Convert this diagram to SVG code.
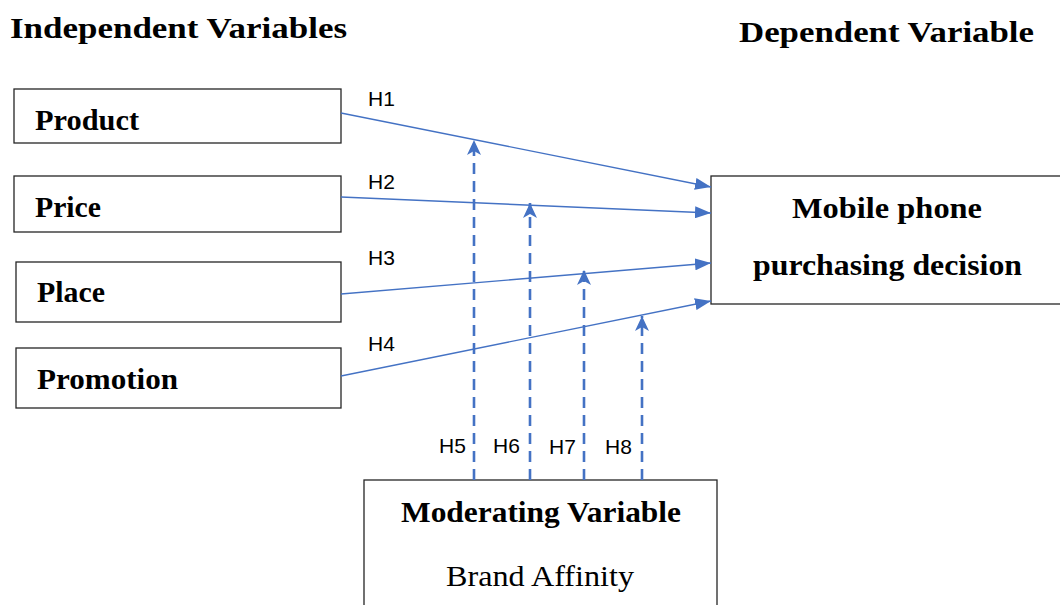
<svg xmlns="http://www.w3.org/2000/svg" width="1060" height="605" viewBox="0 0 1060 605">
<style>
.box{fill:#fff;stroke:#262626;stroke-width:1.3}
.title{font-family:"Liberation Serif",serif;font-weight:bold;font-size:30px;fill:#000}
.node{font-family:"Liberation Serif",serif;font-weight:bold;font-size:30px;fill:#000}
.reg{font-family:"Liberation Serif",serif;font-size:29px;fill:#000}
.h{font-family:"Liberation Sans",Arial,sans-serif;font-size:21px;fill:#000}
.solid{stroke:#4472C4;stroke-width:1.4;fill:none}
.dash{stroke:#4472C4;stroke-width:2.6;fill:none;stroke-dasharray:11 7}
</style>
<defs>
<marker id="tri" viewBox="0 0 16 12" refX="16" refY="6" markerWidth="16" markerHeight="12" markerUnits="userSpaceOnUse" orient="auto">
<path d="M0,0 L16,6 L0,12 z" fill="#4472C4"/>
</marker>
<marker id="notch" viewBox="0 0 15 14" refX="15" refY="7" markerWidth="15" markerHeight="14" markerUnits="userSpaceOnUse" orient="auto">
<path d="M0,0 L15,7 L0,14 L4,7 z" fill="#4472C4"/>
</marker>
</defs>
<text class="title" x="10" y="38" textLength="337" lengthAdjust="spacingAndGlyphs">Independent Variables</text>
<text class="title" x="739" y="42" textLength="295" lengthAdjust="spacingAndGlyphs">Dependent Variable</text>
<g id="product"><rect class="box" x="14" y="89" width="327" height="54"/><text class="node" x="35" y="130" textLength="104" lengthAdjust="spacingAndGlyphs">Product</text></g>
<g id="price"><rect class="box" x="14" y="176" width="327" height="56"/><text class="node" x="35" y="217" textLength="66" lengthAdjust="spacingAndGlyphs">Price</text></g>
<g id="place"><rect class="box" x="16" y="262" width="325" height="60"/><text class="node" x="37" y="302" textLength="68" lengthAdjust="spacingAndGlyphs">Place</text></g>
<g id="promotion"><rect class="box" x="16" y="348" width="325" height="60"/><text class="node" x="37" y="389" textLength="141" lengthAdjust="spacingAndGlyphs">Promotion</text></g>
<g id="decision"><rect class="box" x="711" y="176" width="360" height="128"/><text class="node" x="792" y="218" textLength="190" lengthAdjust="spacingAndGlyphs">Mobile phone</text><text class="node" x="753" y="275" textLength="269" lengthAdjust="spacingAndGlyphs">purchasing decision</text></g>
<g id="moderator"><rect class="box" x="364" y="480" width="353" height="140"/><text class="node" x="401" y="522" textLength="280" lengthAdjust="spacingAndGlyphs">Moderating Variable</text><text class="reg" x="446" y="586" textLength="188" lengthAdjust="spacingAndGlyphs">Brand Affinity</text></g>
<g id="connectors">
<line class="solid" x1="341" y1="113" x2="711" y2="187" marker-end="url(#tri)"/>
<line class="solid" x1="341" y1="197" x2="711" y2="213" marker-end="url(#tri)"/>
<line class="solid" x1="341" y1="294" x2="711" y2="263" marker-end="url(#tri)"/>
<line class="solid" x1="341" y1="376" x2="711" y2="301" marker-end="url(#tri)"/>
<line class="dash" x1="474" y1="480" x2="474" y2="140" marker-end="url(#notch)"/>
<line class="dash" x1="530" y1="480" x2="530" y2="203" marker-end="url(#notch)"/>
<line class="dash" x1="584" y1="480" x2="584" y2="270" marker-end="url(#notch)"/>
<line class="dash" x1="642" y1="480" x2="642" y2="316" marker-end="url(#notch)"/>
<text class="h" x="368" y="106">H1</text>
<text class="h" x="368" y="189">H2</text>
<text class="h" x="368" y="265">H3</text>
<text class="h" x="368" y="351">H4</text>
<text class="h" x="439" y="453">H5</text>
<text class="h" x="493" y="453">H6</text>
<text class="h" x="549" y="454">H7</text>
<text class="h" x="605" y="454">H8</text>
</g>
</svg>
